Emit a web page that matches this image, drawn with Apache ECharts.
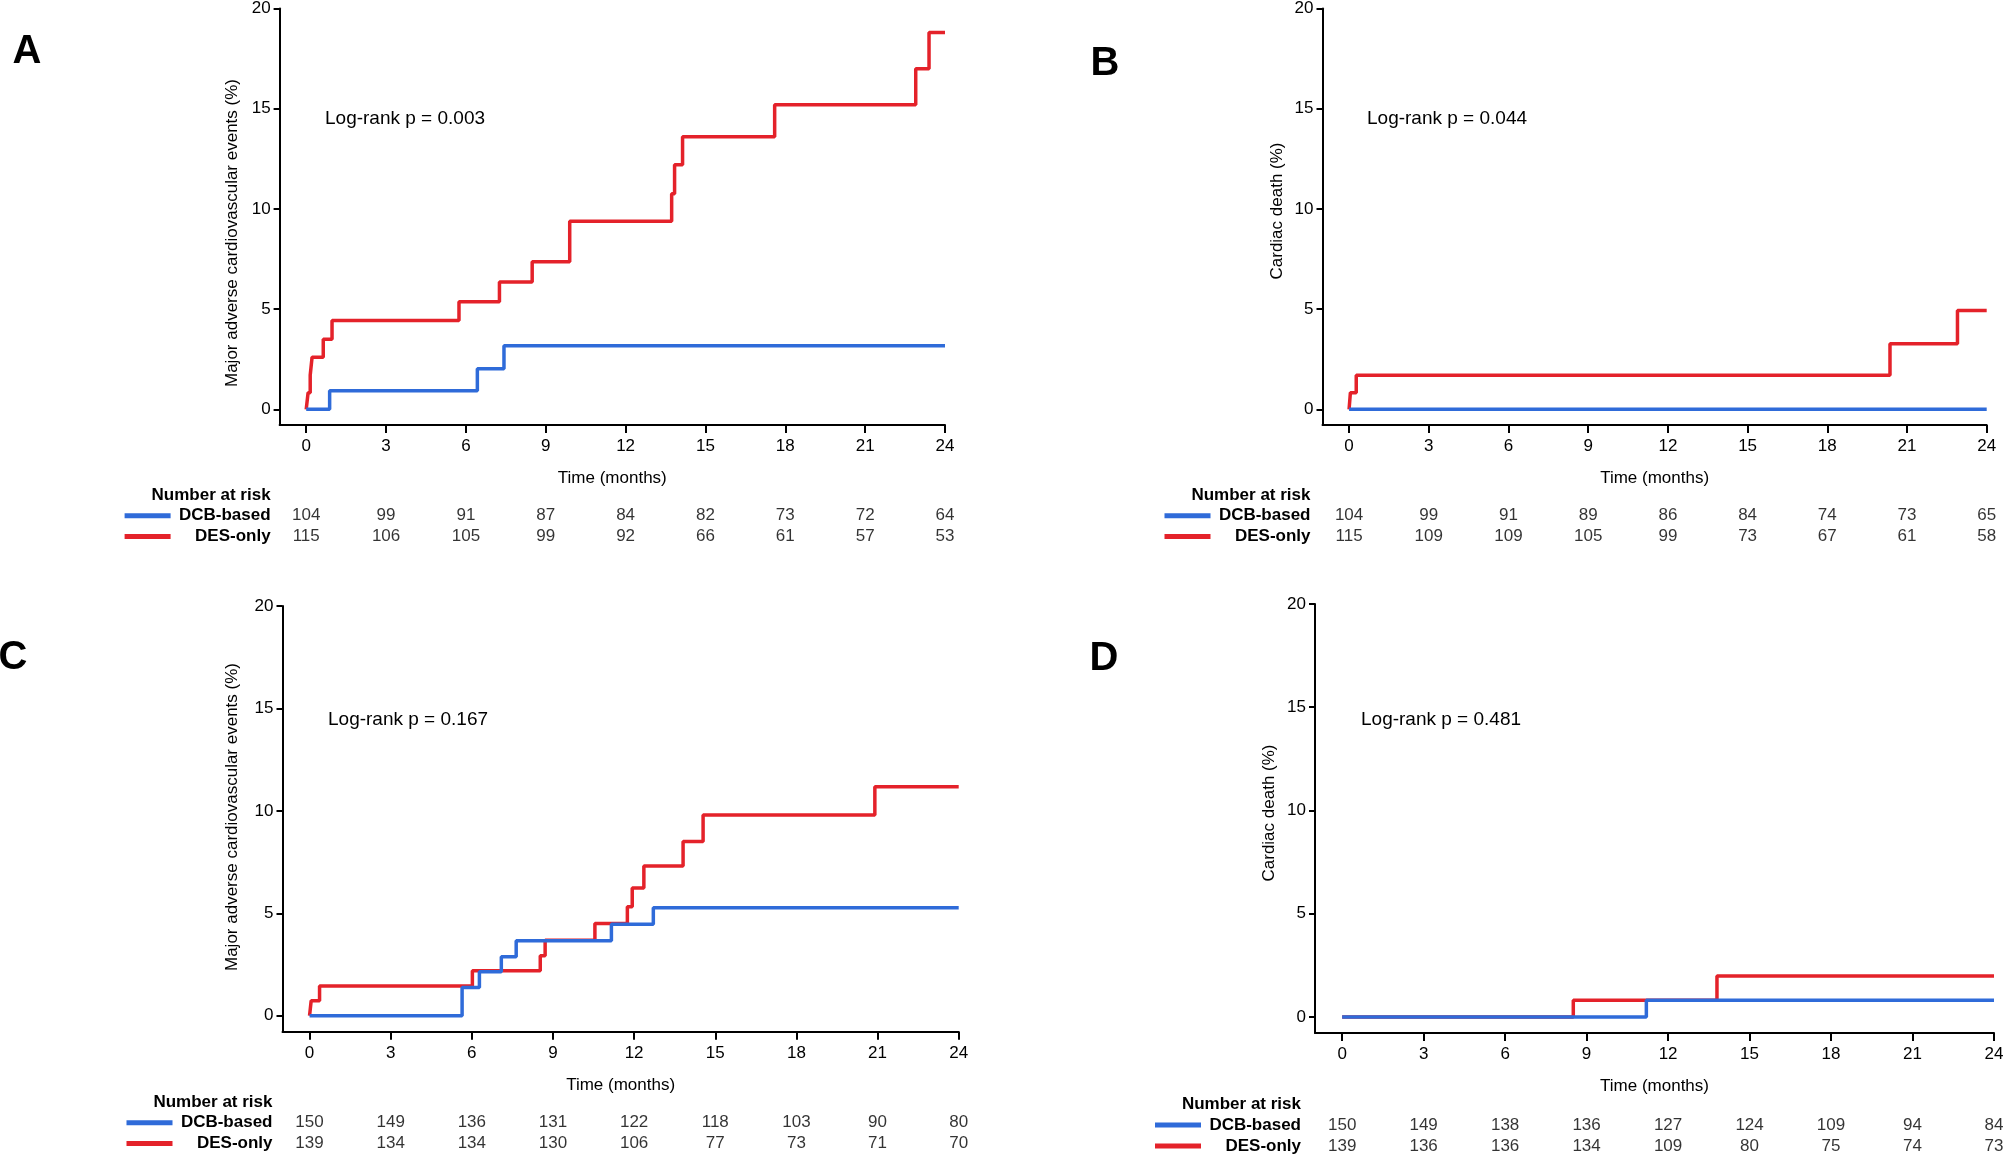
<!DOCTYPE html>
<html>
<head>
<meta charset="utf-8">
<script src="https://cdn.jsdelivr.net/npm/echarts@6/dist/echarts.min.js"></script>
<style>
  html, body { margin: 0; padding: 0; background: #fff; }
  #chart { width: 2008px; height: 1157px; }
</style>
</head>
<body>
<div id="chart"></div>
<script>
// tick labels
const monthTicks = [0, 3, 6, 9, 12, 15, 18, 21, 24]
const pctTicks = [0, 5, 10, 15, 20]
const riskRows = ['Number at risk', 'DCB-based', 'DES-only']

// A: MACE, all patients
const aDcbTime = [0, 0.88, 6.43, 7.43, 24]
const aDcbPct = [0, 0.93, 2.03, 3.17, 3.17]
const aDesTime = [0, 0.07, 0.15, 0.22, 0.64, 0.97, 5.74, 7.26, 8.49, 9.9, 13.73, 13.84, 14.14, 17.6, 22.9, 23.4, 24]
const aDesPct = [0, 0.83, 1.7, 2.6, 3.5, 4.43, 5.37, 6.36, 7.36, 9.39, 10.76, 12.2, 13.6, 15.2, 17.0, 18.8, 18.8]
const aDcbRisk = [104, 99, 91, 87, 84, 82, 73, 72, 64]
const aDesRisk = [115, 106, 105, 99, 92, 66, 61, 57, 53]

// B: cardiac death, all patients
const bDcbTime = [0, 24]
const bDcbPct = [0, 0]
const bDesTime = [0, 0.05, 0.27, 20.36, 22.9, 24]
const bDesPct = [0, 0.83, 1.7, 3.27, 4.93, 4.93]
const bDcbRisk = [104, 99, 91, 89, 86, 84, 74, 73, 65]
const bDesRisk = [115, 109, 109, 105, 99, 73, 67, 61, 58]

// C: MACE, matched
const cDcbTime = [0, 5.64, 6.28, 7.09, 7.64, 11.16, 12.71, 24]
const cDcbPct = [0, 1.38, 2.15, 2.88, 3.66, 4.46, 5.27, 5.27]
const cDesTime = [0, 0.06, 0.37, 6.02, 8.53, 8.71, 10.55, 11.75, 11.93, 12.36, 13.81, 14.55, 20.9, 24]
const cDesPct = [0, 0.73, 1.45, 2.2, 2.93, 3.69, 4.5, 5.32, 6.23, 7.31, 8.51, 9.8, 11.18, 11.18]
const cDcbRisk = [150, 149, 136, 131, 122, 118, 103, 90, 80]
const cDesRisk = [139, 134, 134, 130, 106, 77, 73, 71, 70]

// D: cardiac death, matched
const dDcbTime = [0, 11.2, 24]
const dDcbPct = [0, 0.81, 0.81]
const dDesTime = [0, 8.51, 13.8, 24]
const dDesPct = [0, 0.81, 1.98, 1.98]
const dDcbRisk = [150, 149, 138, 136, 127, 124, 109, 94, 84]
const dDesRisk = [139, 136, 136, 134, 109, 80, 75, 74, 73]

const BLUE = '#2f6bd9'
const RED = '#e4222a'
const FONT = '"Liberation Sans", Arial, sans-serif'

const panels = [
  {
    letter: 'A', yTitle: 'Major adverse cardiovascular events (%)', pText: 'Log-rank p = 0.003',
    dcb: [aDcbTime, aDcbPct], des: [aDesTime, aDesPct], risk: [aDcbRisk, aDesRisk],
    plot: { left: 279.6, top: 6, width: 665.4, height: 419 },
    table: { top: 484.6, height: 62.3 }, labelMargin: 9,
    letterPos: [27, 52], titlePos: [232, 233], pPos: [325, 119]
  },
  {
    letter: 'B', yTitle: 'Cardiac death (%)', pText: 'Log-rank p = 0.044',
    dcb: [bDcbTime, bDcbPct], des: [bDesTime, bDesPct], risk: [bDcbRisk, bDesRisk],
    plot: { left: 1322.5, top: 6, width: 664.2, height: 419 },
    table: { top: 484.6, height: 62.3 }, labelMargin: 12,
    letterPos: [1105, 64], titlePos: [1277.5, 211], pPos: [1367, 119]
  },
  {
    letter: 'C', yTitle: 'Major adverse cardiovascular events (%)', pText: 'Log-rank p = 0.167',
    dcb: [cDcbTime, cDcbPct], des: [cDesTime, cDesPct], risk: [cDcbRisk, cDesRisk],
    plot: { left: 282.5, top: 606, width: 676.2, height: 425.7 },
    table: { top: 1091.6, height: 62.3 }, labelMargin: 10,
    letterPos: [13, 658], titlePos: [232, 817], pPos: [328, 720]
  },
  {
    letter: 'D', yTitle: 'Cardiac death (%)', pText: 'Log-rank p = 0.481',
    dcb: [dDcbTime, dDcbPct], des: [dDesTime, dDesPct], risk: [dDcbRisk, dDesRisk],
    plot: { left: 1315, top: 604, width: 679, height: 429 },
    table: { top: 1093.5, height: 63 }, labelMargin: 14,
    letterPos: [1104, 659], titlePos: [1269, 813], pPos: [1361, 720]
  }
]

const zip = (xs, ys) => xs.map((x, i) => [x, ys[i]])

const grid = []
const xAxis = []
const yAxis = []
const series = []
const graphic = []

panels.forEach((p, i) => {
  const gPlot = i * 2
  const gTable = i * 2 + 1
  grid.push({ left: p.plot.left, top: p.plot.top, width: p.plot.width, height: p.plot.height })
  grid.push({ left: p.plot.left, top: p.table.top, width: p.plot.width, height: p.table.height })

  xAxis.push({
    type: 'value', gridIndex: gPlot, min: -1, max: 24,
    axisLine: { onZero: false, lineStyle: { color: '#000', width: 2 } },
    axisTick: { customValues: monthTicks, length: 8, lineStyle: { color: '#000', width: 2 } },
    axisLabel: { customValues: monthTicks, margin: 13, fontSize: 17, color: '#000', fontFamily: FONT },
    splitLine: { show: false },
    name: 'Time (months)', nameLocation: 'middle', nameGap: 45,
    nameTextStyle: { fontSize: 17, color: '#000', fontFamily: FONT }
  })
  xAxis.push({
    type: 'value', gridIndex: gTable, min: -1, max: 24, show: false
  })

  yAxis.push({
    type: 'value', gridIndex: gPlot, min: -0.78, max: 20,
    axisLine: { show: true, onZero: false, lineStyle: { color: '#000', width: 2 } },
    axisTick: { show: true, customValues: pctTicks, length: 6, lineStyle: { color: '#000', width: 2 } },
    axisLabel: { customValues: pctTicks, margin: 9, fontSize: 17, color: '#000', fontFamily: FONT },
    splitLine: { show: false }
  })
  yAxis.push({
    type: 'category', gridIndex: gTable, inverse: true, data: riskRows,
    axisLine: { show: false }, axisTick: { show: false }, splitLine: { show: false },
    axisLabel: {
      margin: p.labelMargin, fontFamily: FONT,
      formatter: (v) => {
        if (v === 'Number at risk') return '{head|Number at risk}'
        if (v === 'DCB-based') return '{dcb|}{name|DCB-based}'
        return '{des|}{name|DES-only}'
      },
      rich: {
        head: { fontSize: 17, fontWeight: 'bold', color: '#000', fontFamily: FONT },
        name: { fontSize: 17, fontWeight: 'bold', color: '#000', fontFamily: FONT, width: 100, align: 'right' },
        dcb: { width: 46, height: 5, backgroundColor: BLUE },
        des: { width: 46, height: 5, backgroundColor: RED }
      }
    }
  })

  series.push({
    type: 'line', name: 'DES-only', xAxisIndex: gPlot, yAxisIndex: gPlot,
    step: 'end', symbol: 'none', data: zip(p.des[0], p.des[1]),
    lineStyle: { color: RED, width: 3.5 }, itemStyle: { color: RED }
  })
  series.push({
    type: 'line', name: 'DCB-based', xAxisIndex: gPlot, yAxisIndex: gPlot,
    step: 'end', symbol: 'none', data: zip(p.dcb[0], p.dcb[1]),
    lineStyle: { color: BLUE, width: 3.5 }, itemStyle: { color: BLUE }
  })

  const riskData = []
  monthTicks.forEach((m, k) => {
    riskData.push([m, 'DCB-based', p.risk[0][k]])
    riskData.push([m, 'DES-only', p.risk[1][k]])
  })
  series.push({
    type: 'scatter', xAxisIndex: gTable, yAxisIndex: gTable, data: riskData,
    symbolSize: 1, itemStyle: { color: 'rgba(0,0,0,0)' },
    label: {
      show: true, position: 'inside', formatter: (d) => d.value[2],
      fontSize: 17, color: '#000', fontFamily: FONT
    }
  })

  graphic.push({
    type: 'text', x: p.letterPos[0], y: p.letterPos[1],
    style: { text: p.letter, font: 'bold 40px ' + FONT, fill: '#000', textAlign: 'center', textVerticalAlign: 'middle' }
  })
  graphic.push({
    type: 'text', x: p.titlePos[0], y: p.titlePos[1], rotation: Math.PI / 2,
    style: { text: p.yTitle, font: '17px ' + FONT, fill: '#000', textAlign: 'center', textVerticalAlign: 'middle' }
  })
  graphic.push({
    type: 'text', x: p.pPos[0], y: p.pPos[1],
    style: { text: p.pText, font: '19px ' + FONT, fill: '#000', textAlign: 'left', textVerticalAlign: 'middle' }
  })
})

const chart = echarts.init(document.getElementById('chart'))
chart.setOption({
  animation: false,
  backgroundColor: '#fff',
  grid, xAxis, yAxis, series, graphic
})
</script>
</body>
</html>
